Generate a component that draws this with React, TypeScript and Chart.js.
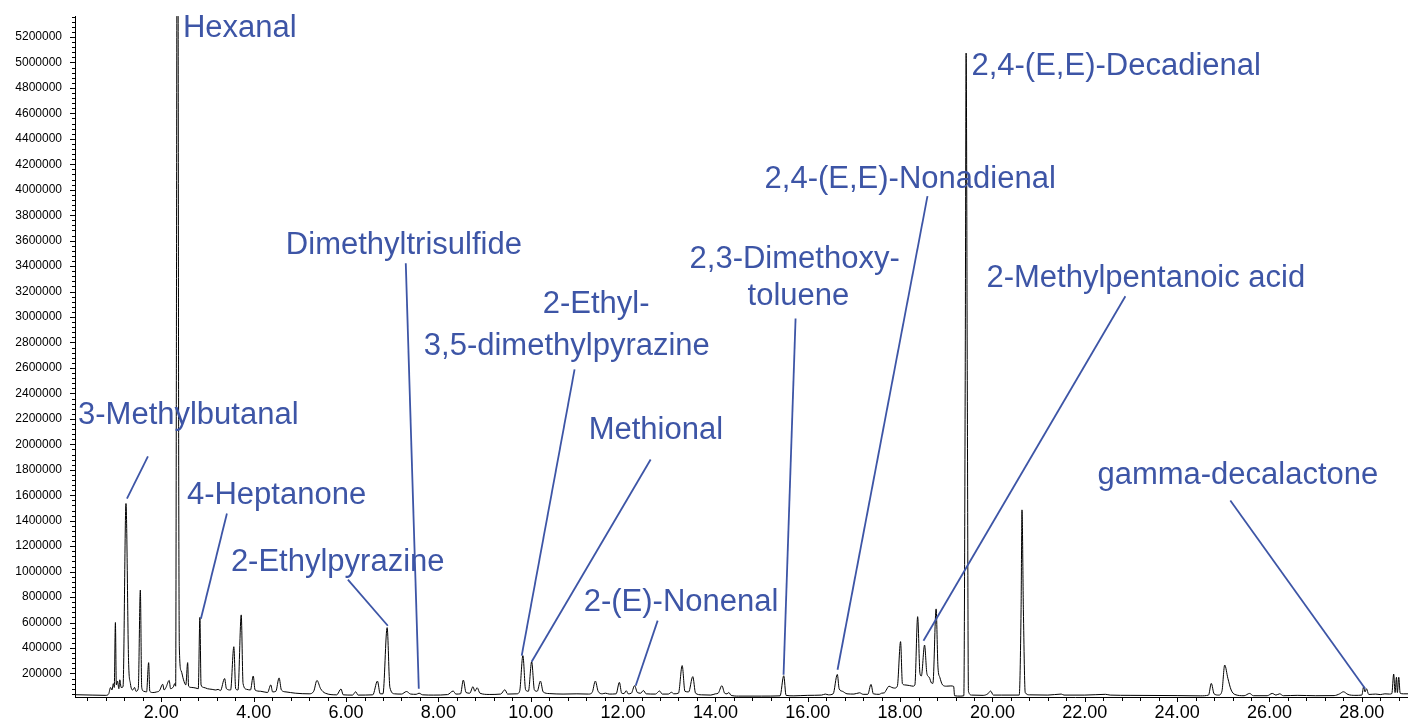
import React, { useEffect, useRef } from "react";
import { Chart, registerables } from "chart.js";

Chart.register(...registerables);

// ---------- data (retention time [min], abundance) ----------
const traceEarly: [number, number][] = [
  [0.13, 33000], [0.5, 30000], [0.8, 28000], [0.86, 40000], [0.9, 90000], [0.93, 70000], [0.96, 120000],
  [0.98, 90000], [1.005, 600000], [1.025, 110000], [1.05, 140000], [1.08, 80000], [1.1, 150000], [1.13, 90000],
  [1.17, 95000], [1.234, 1535000], [1.29, 300000], [1.33, 120000], [1.38, 70000], [1.42, 90000], [1.45, 60000],
  [1.5, 80000], [1.545, 855000], [1.575, 90000], [1.62, 60000], [1.68, 55000], [1.725, 285000], [1.75, 60000],
  [1.82, 50000], [1.9, 55000], [1.96, 65000], [2.03, 115000], [2.06, 70000], [2.1, 90000], [2.17, 145000],
  [2.2, 80000], [2.26, 95000], [2.29, 120000], [2.31, 100000], [2.325, 2500000], [2.34, 5900000],
  [2.36, 5900000], [2.375, 2000000], [2.39, 400000], [2.43, 220000], [2.48, 150000], [2.53, 110000],
  [2.57, 285000], [2.59, 100000], [2.66, 90000], [2.75, 85000], [2.8, 80000], [2.835, 640000], [2.86, 110000],
  [2.92, 90000], [3.0, 80000], [3.1, 75000], [3.18, 70000], [3.23, 75000], [3.28, 65000], [3.37, 160000],
  [3.41, 80000], [3.5, 70000], [3.57, 410000], [3.61, 80000], [3.66, 70000], [3.73, 660000], [3.77, 120000],
  [3.85, 75000], [3.93, 70000], [3.99, 180000], [4.03, 70000], [4.15, 60000], [4.3, 50000], [4.37, 110000],
  [4.41, 55000], [4.48, 60000], [4.55, 165000], [4.6, 70000], [4.7, 55000], [4.9, 45000], [5.2, 40000],
  [5.3, 60000], [5.37, 145000], [5.45, 80000], [5.55, 45000], [5.8, 32000], [5.89, 78000], [5.94, 32000],
  [6.14, 30000], [6.21, 56000], [6.26, 30000], [6.58, 32000], [6.68, 140000], [6.74, 40000], [6.8, 40000],
  [6.89, 560000], [6.95, 90000], [7.05, 40000], [7.2, 38000], [7.31, 58000], [7.4, 38000], [7.52, 36000],
  [7.58, 45000], [7.66, 32000],
];

const traceMiddle: [number, number][] = [
  [7.9, 30000], [8.2, 34000], [8.32, 62000], [8.38, 38000], [8.48, 40000], [8.54, 148000], [8.6, 50000],
  [8.68, 45000], [8.75, 96000], [8.79, 60000], [8.84, 88000], [8.9, 45000], [9.1, 35000], [9.35, 38000],
  [9.44, 72000], [9.5, 38000], [9.7, 40000], [9.76, 60000], [9.83, 340000], [9.89, 70000], [9.95, 60000],
  [10.02, 292000], [10.08, 70000], [10.14, 60000], [10.21, 140000], [10.27, 55000], [10.4, 42000],
  [10.7, 38000], [11.0, 40000], [11.25, 38000], [11.33, 50000], [11.4, 140000], [11.46, 60000], [11.55, 40000],
  [11.62, 45000], [11.7, 38000], [11.85, 40000], [11.92, 130000], [11.97, 45000], [12.02, 42000],
  [12.07, 64000], [12.11, 40000], [12.18, 45000], [12.25, 104000], [12.31, 50000], [12.38, 45000],
  [12.44, 66000], [12.5, 40000], [12.7, 38000], [12.79, 62000], [12.85, 38000], [12.98, 38000], [13.05, 52000],
  [13.1, 40000], [13.2, 45000], [13.28, 262000], [13.34, 60000], [13.42, 55000], [13.51, 175000],
  [13.57, 45000], [13.7, 32000], [13.9, 30000], [14.0, 40000], [14.06, 45000], [14.14, 104000], [14.2, 45000],
  [14.25, 40000], [14.29, 50000], [14.34, 28000], [14.5, 22000], [15.0, 22000], [15.4, 24000],
  [15.48, 182000], [15.53, 28000], [15.7, 24000], [16.0, 28000], [16.3, 30000], [16.38, 38000],
  [16.45, 32000], [16.55, 40000], [16.64, 192000], [16.68, 80000], [16.75, 60000], [16.85, 40000],
  [17.0, 38000], [17.12, 48000], [17.2, 36000], [17.3, 36000], [17.37, 114000], [17.42, 40000],
  [17.55, 36000], [17.6, 45000], [17.66, 48000], [17.7, 70000], [17.76, 100000], [17.82, 90000],
  [17.88, 85000], [17.94, 100000],
];

const traceLate: [number, number][] = [
  [18.01, 450000], [18.05, 120000], [18.1, 110000], [18.2, 105000], [18.28, 100000], [18.32, 110000],
  [18.38, 646000], [18.43, 200000], [18.46, 180000], [18.53, 423000], [18.58, 200000], [18.63, 170000],
  [18.68, 125000], [18.71, 122000], [18.78, 707000], [18.82, 250000], [18.86, 170000], [18.92, 110000],
  [19.0, 100000], [19.1, 102000], [19.16, 98000], [19.18, 25000], [19.3, 22000], [19.38, 25000],
  [19.41, 2500000], [19.43, 5074000], [19.455, 2500000], [19.48, 60000], [19.55, 30000], [19.8, 28000],
  [19.9, 40000], [19.96, 62000], [20.02, 30000], [20.2, 30000], [20.58, 30000], [20.62, 700000],
  [20.64, 1485000], [20.67, 700000], [20.71, 50000], [20.8, 32000], [21.2, 30000], [21.49, 38000],
  [21.55, 30000], [22.0, 30000], [22.45, 36000], [22.55, 30000], [23.0, 28000], [24.0, 26000], [24.5, 24000],
  [24.68, 30000], [24.74, 122000], [24.8, 40000], [24.9, 30000], [24.97, 60000], [25.03, 266000],
  [25.1, 160000], [25.17, 70000], [25.25, 35000], [25.45, 25000], [25.57, 43000], [25.65, 25000],
  [25.95, 25000], [26.06, 43000], [26.14, 30000], [26.22, 40000], [26.3, 25000], [26.6, 28000], [27.0, 25000],
  [27.4, 26000], [27.52, 40000], [27.6, 56000], [27.7, 35000], [27.85, 28000], [28.0, 30000], [28.04, 96000],
  [28.07, 55000], [28.1, 80000], [28.15, 35000], [28.3, 38000], [28.4, 34000], [28.5, 40000], [28.6, 38000],
  [28.65, 42000], [28.69, 195000], [28.72, 50000], [28.75, 170000], [28.77, 50000], [28.8, 170000],
  [28.83, 45000], [28.9, 40000], [29.0, 40000],
];

const xTickLabels = [2, 4, 6, 8, 10, 12, 14, 16, 18, 20, 22, 24, 26, 28];
const yTickLabels = [
  200000, 400000, 600000, 800000, 1000000, 1200000, 1400000, 1600000, 1800000, 2000000, 2200000, 2400000,
  2600000, 2800000, 3000000, 3200000, 3400000, 3600000, 3800000, 4000000, 4200000, 4400000, 4600000,
  4800000, 5000000, 5200000,
];

// compound labels: text lines, and the peak (time, abundance) each points to
const compoundNames: string[][] = [
  ["Hexanal"],
  ["3-Methylbutanal"],
  ["4-Heptanone"],
  ["2-Ethylpyrazine"],
  ["Dimethyltrisulfide"],
  ["2-Ethyl-", "3,5-dimethylpyrazine"],
  ["Methional"],
  ["2-(E)-Nonenal"],
  ["2,3-Dimethoxy-", "toluene"],
  ["2,4-(E,E)-Nonadienal"],
  ["2,4-(E,E)-Decadienal"],
  ["2-Methylpentanoic acid"],
  ["gamma-decalactone"],
];
const peakTimes: (number | null)[] = [null, 1.255, 2.857, 6.905, 7.576, 9.805, 10.02, 12.273, 15.476, 16.645, null, 18.506, 28.074];
const peakHeights: (number | null)[] = [null, 1574000, 630000, 575000, 80000, 340000, 292000, 103000, 190000, 229000, null, 457000, 80000];

// label layout in data coordinates (text left/middle per line, leader-line start)
const labelLayout: { lines: [number, number][]; from: [number, number] | null }[] = [
  { lines: [[2.468, 5271000]], from: null },
  { lines: [[0.195, 2227000]], from: [1.71, 1905000] },
  { lines: [[2.554, 1598000]], from: [3.42, 1456000] },
  { lines: [[3.506, 1071000]], from: [6.04, 937000] },
  { lines: [[4.697, 3564000]], from: [7.294, 3422000] },
  { lines: [[10.26, 3100000], [7.684, 2770000]], from: [10.95, 2589000] },
  { lines: [[11.255, 2109000]], from: [12.597, 1881000] },
  { lines: [[11.147, 756000]], from: [12.749, 615000] },
  { lines: [[13.44, 3454000], [14.697, 3163000]], from: [15.736, 2989000] },
  { lines: [[15.065, 4083000]], from: [18.593, 3950000] },
  { lines: [[19.545, 4972000]], from: null },
  { lines: [[19.87, 3305000]], from: [22.879, 3163000] },
  { lines: [[22.273, 1755000]], from: [25.152, 1559000] },
];

const X_MIN = 0.13;
const X_MAX = 29.0;
const Y_MIN = 15000;
const Y_MAX = 5365000;
const BLUE = "#3d55a6";
const FONT = "'Liberation Sans', Arial, sans-serif";

const annotationPlugin = {
  id: "compoundLabels",
  afterDatasetsDraw(chart: any) {
    const { ctx, scales } = chart;
    const xs = scales.x;
    const ys = scales.y;
    ctx.save();
    ctx.fillStyle = BLUE;
    ctx.strokeStyle = BLUE;
    ctx.lineWidth = 1.8;
    ctx.font = `31px ${FONT}`;
    ctx.textBaseline = "middle";
    ctx.textAlign = "left";
    compoundNames.forEach((lines, i) => {
      const lay = labelLayout[i];
      lines.forEach((txt, j) => {
        const [t, v] = lay.lines[j];
        ctx.fillText(txt, xs.getPixelForValue(t), ys.getPixelForValue(v));
      });
      const pt = peakTimes[i];
      const ph = peakHeights[i];
      if (lay.from && pt !== null && ph !== null) {
        ctx.beginPath();
        ctx.moveTo(xs.getPixelForValue(lay.from[0]), ys.getPixelForValue(lay.from[1]));
        ctx.lineTo(xs.getPixelForValue(pt), ys.getPixelForValue(ph));
        ctx.stroke();
      }
    });
    ctx.restore();
  },
};

const tickPlugin = {
  id: "axisTicks",
  afterDraw(chart: any) {
    const { ctx, scales, chartArea } = chart;
    const xs = scales.x;
    const ys = scales.y;
    ctx.save();
    ctx.strokeStyle = "#000";
    ctx.lineWidth = 1;
    ctx.beginPath();
    for (let k = 1; k * 0.4 <= X_MAX; k++) {
      const v = k * 0.4;
      if (v < X_MIN) continue;
      const px = Math.round(xs.getPixelForValue(v)) + 0.5;
      const major = k % 5 === 0;
      ctx.moveTo(px, chartArea.bottom);
      ctx.lineTo(px, chartArea.bottom + (major ? 5 : 4));
    }
    for (let k = 1; k * 40000 <= Y_MAX; k++) {
      const v = k * 40000;
      if (v < Y_MIN) continue;
      const py = Math.round(ys.getPixelForValue(v)) + 0.5;
      const major = k % 5 === 0;
      ctx.moveTo(chartArea.left, py);
      ctx.lineTo(chartArea.left - (major ? 5 : 3), py);
    }
    ctx.stroke();
    ctx.restore();
  },
};

export default function App() {
  const ref = useRef<HTMLCanvasElement | null>(null);
  useEffect(() => {
    document.body.style.margin = "0";
    const canvas = ref.current;
    if (!canvas) return;
    const points = [...traceEarly, ...traceMiddle, ...traceLate].map(([x, y]) => ({ x, y }));
    const chart = new Chart(canvas, {
      type: "line",
      data: {
        datasets: [
          {
            data: points,
            borderColor: "#000",
            borderWidth: 1,
            pointRadius: 0,
            fill: false,
            cubicInterpolationMode: "monotone",
          },
        ],
      },
      options: {
        animation: false,
        responsive: false,
        devicePixelRatio: 1,
        parsing: false,
        layout: { padding: { top: 16, right: 0, left: 0, bottom: 0 } },
        plugins: { legend: { display: false }, tooltip: { enabled: false } },
        scales: {
          x: {
            type: "linear",
            min: X_MIN,
            max: X_MAX,
            grid: { display: true, drawOnChartArea: false, drawTicks: false },
            border: { display: true, color: "#000", width: 1 },
            afterBuildTicks: (scale: any) => {
              scale.ticks = xTickLabels.map((v) => ({ value: v }));
            },
            afterFit: (scale: any) => {
              scale.height = 25;
              scale.paddingLeft = 0;
              scale.paddingRight = 0;
            },
            ticks: {
              autoSkip: false,
              maxRotation: 0,
              padding: 5,
              color: "#000",
              font: { family: FONT, size: 18 },
              callback: (v: any) => Number(v).toFixed(2),
            },
          },
          y: {
            type: "linear",
            min: Y_MIN,
            max: Y_MAX,
            grid: { display: true, drawOnChartArea: false, drawTicks: false },
            border: { display: true, color: "#000", width: 1 },
            afterBuildTicks: (scale: any) => {
              scale.ticks = yTickLabels.map((v) => ({ value: v }));
            },
            afterFit: (scale: any) => {
              scale.width = 75;
              scale.paddingTop = 0;
              scale.paddingBottom = 0;
            },
            ticks: {
              autoSkip: false,
              padding: 13,
              color: "#000",
              font: { family: FONT, size: 12 },
              callback: (v: any) => String(v),
            },
          },
        },
      },
      plugins: [annotationPlugin, tickPlugin],
    } as any);
    return () => chart.destroy();
  }, []);
  return (
    <canvas ref={ref} width={1408} height={722} style={{ display: "block", width: 1408, height: 722 }} />
  );
}
